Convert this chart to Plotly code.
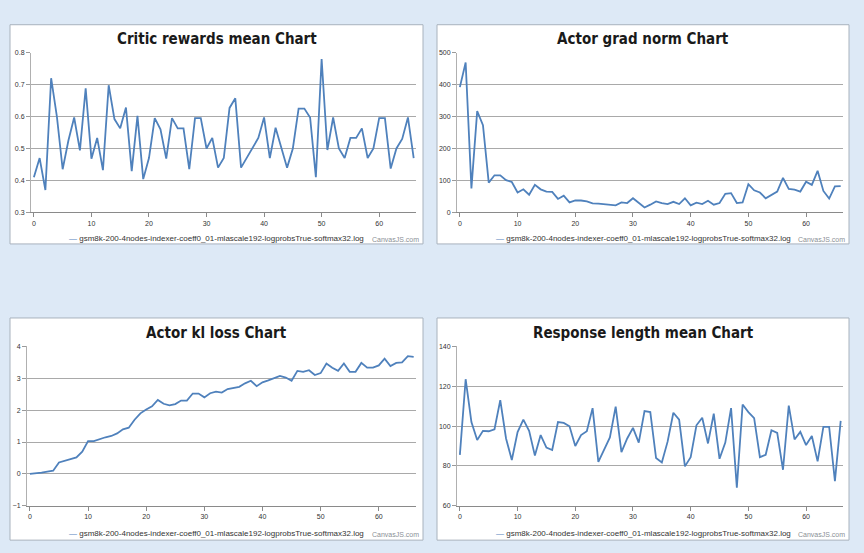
import plotly.graph_objects as go

steps = list(range(67))

critic_rewards_mean = [0.41, 0.47, 0.37, 0.72, 0.60, 0.435, 0.525, 0.597, 0.494, 0.688,
                       0.468, 0.533, 0.432, 0.698, 0.592, 0.563, 0.628, 0.429, 0.602, 0.404,
                       0.47, 0.595, 0.56, 0.468, 0.595, 0.563, 0.563, 0.435, 0.595, 0.595,
                       0.50, 0.533, 0.44, 0.47, 0.627, 0.657, 0.44, 0.47, 0.50, 0.533,
                       0.597, 0.47, 0.565, 0.50, 0.44, 0.50, 0.625, 0.625, 0.597, 0.41,
                       0.78, 0.495, 0.597, 0.50, 0.47, 0.533, 0.533, 0.563, 0.47, 0.50,
                       0.595, 0.595, 0.437, 0.50, 0.53, 0.597, 0.47]

actor_grad_norm = [392, 469, 75, 317, 273, 93, 116, 116, 101, 95,
                   62, 72, 55, 86, 72, 65, 64, 42, 52, 31,
                   37, 37, 34, 28, 27, 26, 25, 22, 31, 29,
                   44, 30, 15, 24, 34, 29, 26, 33, 26, 44,
                   22, 30, 26, 36, 24, 29, 58, 60, 29, 31,
                   88, 69, 62, 44, 55, 65, 108, 73, 71, 65,
                   96, 86, 130, 67, 43, 81, 82]

actor_kl_loss = [0.0, 0.01, 0.04, 0.07, 0.10, 0.36, 0.42, 0.47, 0.52, 0.70,
                 1.03, 1.03, 1.10, 1.15, 1.19, 1.27, 1.40, 1.45, 1.70, 1.90,
                 2.02, 2.12, 2.32, 2.20, 2.15, 2.19, 2.30, 2.30, 2.52, 2.52,
                 2.40, 2.53, 2.58, 2.55, 2.66, 2.69, 2.73, 2.84, 2.92, 2.75,
                 2.87, 2.93, 3.01, 3.07, 3.02, 2.92, 3.23, 3.20, 3.25, 3.10,
                 3.16, 3.46, 3.33, 3.23, 3.46, 3.20, 3.20, 3.48, 3.33, 3.33,
                 3.40, 3.61, 3.38, 3.48, 3.50, 3.69, 3.67]

response_length_mean = [85.6, 123.5, 102, 93, 97.6, 97.4, 98.4, 113, 93.8, 83,
                        97, 103.2, 97.6, 85.2, 95.5, 89.2, 88, 102, 101.6, 99.9,
                        90, 95.5, 97.4, 109, 82, 88, 94.3, 109.8, 86.9, 93.8,
                        99.1, 91.7, 107.5, 107, 84, 81.8, 92.2, 106.7, 103.2, 79.8,
                        84.4, 100.4, 104.2, 91.3, 106.2, 83.6, 91.7, 109, 69.1, 110.8,
                        107, 104, 84.4, 85.6, 97.9, 96.6, 78.1, 110.3, 93.3, 97.1,
                        90.5, 95, 82.3, 99.6, 99.6, 72.4, 102.6]

titles = ["Critic rewards mean Chart", "Actor grad norm Chart",
          "Actor kl loss Chart", "Response length mean Chart"]
series_name = "gsm8k-200-4nodes-indexer-coeff0_01-mlascale192-logprobsTrue-softmax32.log"
x_ticks = [0, 10, 20, 30, 40, 50, 60]
y_ranges = [(0.3, 0.8, 0.1), (0, 500, 100), (-1, 4, 1), (60, 140, 20)]

W, H = 864, 553
LINE = "#4F81BC"

def px(x):
    return x / W

def py(y):
    return 1 - y / H

# panel boxes (pixels): left, top, right, bottom
panels = [(10, 21, 423, 243), (437, 21, 849, 243), (10, 318, 423, 543), (437, 318, 849, 543)]
# plot areas (pixels): left, top, right, bottom
plots = [(31, 49.3, 416, 211), (457, 49.3, 843, 211), (27, 346.7, 416, 508.3), (457, 346.7, 843, 508.3)]
title_y = [35, 35, 333, 333]
legend_y = [238, 238, 536, 536]

data = [critic_rewards_mean, actor_grad_norm, actor_kl_loss, response_length_mean]

fig = go.Figure()
shapes = []
annotations = []
for i in range(4):
    ax = "" if i == 0 else str(i + 1)
    fig.add_trace(go.Scatter(x=steps, y=data[i], mode="lines",
                             line=dict(color=LINE, width=1.8),
                             xaxis="x" + ax, yaxis="y" + ax, showlegend=False))
    l, t, r, b = plots[i]
    lo, hi, dt = y_ranges[i]
    common_font = dict(family="Liberation Sans, Arial, sans-serif", size=7, color="#333333")
    fig.update_layout(**{
        "xaxis" + ax: dict(domain=[px(l), px(r)], range=[-0.5, 66.4], tickvals=x_ticks,
                           showgrid=False, zeroline=False, showline=True, linecolor="#8a8a8a",
                           linewidth=1, ticks="outside", ticklen=4, tickcolor="#8a8a8a",
                           tickfont=common_font, anchor="y" + ax, fixedrange=True),
        "yaxis" + ax: dict(domain=[py(b), py(t)], range=[lo, hi], dtick=dt, tick0=lo,
                           showgrid=True, gridcolor="#a9a9a9", gridwidth=1, zeroline=False,
                           showline=True, linecolor="#b0b0b0", linewidth=1, ticks="outside",
                           ticklen=4, tickcolor="#9a9a9a", tickfont=common_font,
                           anchor="x" + ax, fixedrange=True),
    })
    pl, pt, pr, pb = panels[i]
    shapes.append(dict(type="rect", xref="paper", yref="paper",
                       x0=px(pl), x1=px(pr), y0=py(pb), y1=py(pt),
                       fillcolor="white", line=dict(color="#a8b2bd", width=1), layer="below"))
    cx = (pl + pr) / 2
    annotations.append(dict(text="<b>" + titles[i] + "</b>", x=px(cx), y=py(title_y[i]),
                            xref="paper", yref="paper", showarrow=False,
                            xanchor="center", yanchor="middle",
                            font=dict(family="DejaVu Sans Condensed, DejaVu Sans, sans-serif",
                                      size=15, color="#1a1a1a")))
    annotations.append(dict(text="<span style='color:%s'>—</span> %s" % (LINE, series_name),
                            x=px(cx), y=py(legend_y[i]), xref="paper", yref="paper",
                            showarrow=False, xanchor="center", yanchor="middle",
                            font=dict(family="Liberation Sans, Arial, sans-serif",
                                      size=8, color="#333333")))
    annotations.append(dict(text="CanvasJS.com", x=px(pr - 2), y=py(legend_y[i] + 1),
                            xref="paper", yref="paper", showarrow=False,
                            xanchor="right", yanchor="middle",
                            font=dict(family="Liberation Sans, Arial, sans-serif",
                                      size=7, color="#8a8f96")))

fig.update_layout(width=W, height=H, margin=dict(l=0, r=0, t=0, b=0),
                  paper_bgcolor="#dde9f6", plot_bgcolor="rgba(0,0,0,0)",
                  shapes=shapes, annotations=annotations, showlegend=False)

fig.write_html("out.html")
